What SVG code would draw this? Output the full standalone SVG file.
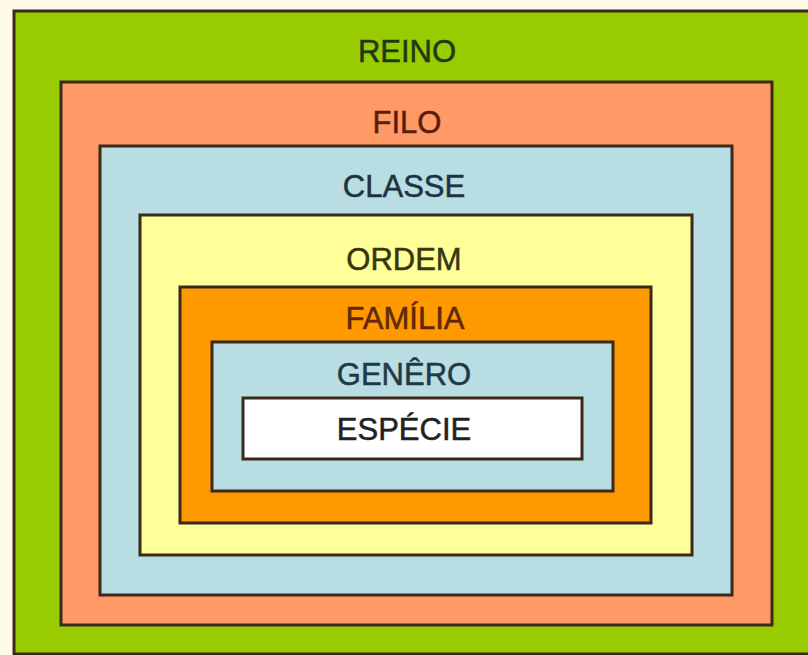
<svg xmlns="http://www.w3.org/2000/svg" width="808" height="655" viewBox="0 0 808 655">
<style>
.box{stroke:#3b2a1c;stroke-width:3}
.t{font-family:"Liberation Sans",Arial,sans-serif;font-size:31px;text-anchor:middle;stroke-width:0.5}
</style>
<rect width="808" height="655" fill="#fffbe8"/>
<g id="reino"><rect class="box" x="14" y="11" width="800" height="643" fill="#99cc00"/><text class="t" x="407" y="62" fill="#1d3a18" stroke="#1d3a18">REINO</text></g>
<g id="filo"><rect class="box" x="61" y="82" width="711" height="543" fill="#ff9966"/><text class="t" x="407" y="133" fill="#5a1c0c" stroke="#5a1c0c">FILO</text></g>
<g id="classe"><rect class="box" x="100" y="146" width="632" height="449" fill="#b8dde3"/><text class="t" x="404" y="197" fill="#1e3340" stroke="#1e3340">CLASSE</text></g>
<g id="ordem"><rect class="box" x="140" y="215" width="552" height="340" fill="#ffff99"/><text class="t" x="404" y="270" fill="#38360e" stroke="#38360e">ORDEM</text></g>
<g id="familia"><rect class="box" x="180" y="287" width="471" height="236" fill="#ff9900"/><text class="t" x="405" y="329" fill="#62260a" stroke="#62260a">FAMÍLIA</text></g>
<g id="genero"><rect class="box" x="212" y="342" width="401" height="149" fill="#b8dde3"/><text class="t" x="404" y="385" fill="#1e3a48" stroke="#1e3a48">GENÊRO</text></g>
<g id="especie"><rect class="box" x="243" y="398" width="339" height="61" fill="#ffffff"/><text class="t" x="404" y="440" fill="#222222" stroke="#222222">ESPÉCIE</text></g>
</svg>
